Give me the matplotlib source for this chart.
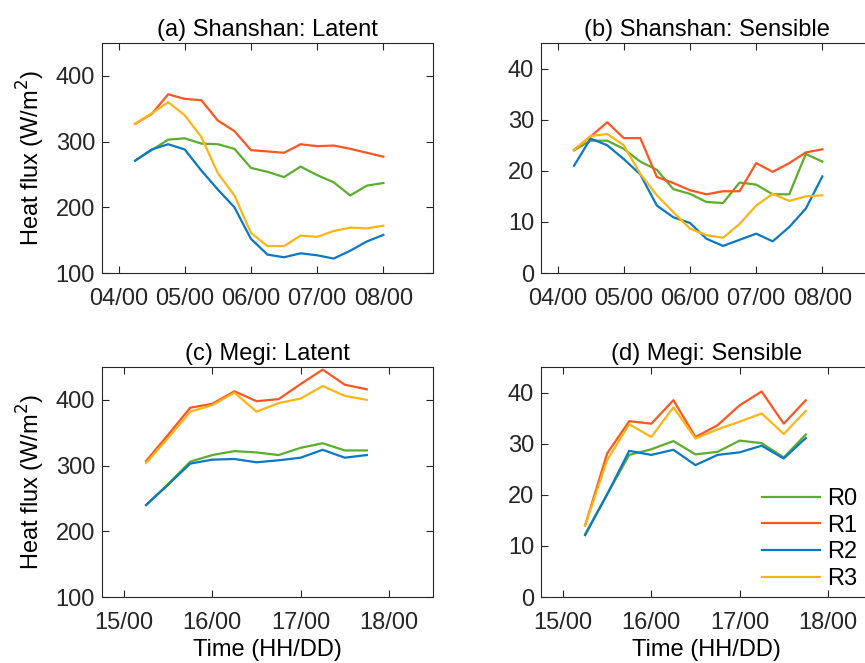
import matplotlib
matplotlib.use("Agg")
import matplotlib.pyplot as plt
import matplotlib.dates as mdates
import pandas as pd

plt.rcParams['font.family'] = ['Liberation Sans', 'DejaVu Sans']
plt.rcParams['font.size'] = 17

#### Data ###
# Shanshan: 6-hourly from 04/06 to 08/00
shanshan_time = pd.date_range('2018-08-04 06:00', '2018-08-08 00:00', freq='6h')
ss_latent_r0 = [271, 287, 303, 305, 297, 296, 289, 260, 254, 246, 262, 249, 238, 218, 233, 237]
ss_latent_r1 = [327, 342, 372, 365, 363, 332, 316, 287, 285, 283, 296, 293, 294, 289, 283, 277]
ss_latent_r2 = [271, 288, 296, 288, 256, 227, 200, 152, 128, 124, 130, 127, 122, 134, 148, 158]
ss_latent_r3 = [327, 343, 360, 340, 307, 252, 218, 161, 141, 141, 157, 155, 164, 169, 168, 172]

ss_sens_r0 = [24.0, 25.9, 25.9, 24.3, 21.8, 20.2, 16.4, 15.5, 13.9, 13.7, 17.7, 17.3, 15.4, 15.4, 23.3, 21.8]
ss_sens_r1 = [24.1, 26.7, 29.5, 26.4, 26.4, 18.8, 17.6, 16.2, 15.4, 16.0, 16.0, 21.5, 19.8, 21.5, 23.6, 24.2]
ss_sens_r2 = [21.0, 26.3, 25.0, 22.3, 19.3, 13.2, 10.9, 9.8, 6.7, 5.3, 6.5, 7.7, 6.2, 9.0, 12.6, 18.9]
ss_sens_r3 = [24.1, 26.8, 27.2, 25.0, 19.4, 15.2, 11.9, 8.7, 7.4, 6.9, 9.6, 13.2, 15.5, 14.1, 15.0, 15.2]

# Megi: 6-hourly from 15/06 to 17/18
megi_time = pd.date_range('2010-10-15 06:00', '2010-10-17 18:00', freq='6h')
mg_latent_r0 = [240, 272, 306, 316, 322, 320, 316, 327, 334, 323, 323]
mg_latent_r1 = [307, 347, 388, 394, 413, 398, 401, 424, 446, 423, 416]
mg_latent_r2 = [240, 271, 303, 309, 310, 305, 308, 312, 324, 312, 316]
mg_latent_r3 = [304, 342, 382, 392, 411, 382, 395, 402, 421, 406, 400]

mg_sens_r0 = [12.3, 20.1, 27.8, 28.9, 30.5, 27.9, 28.4, 30.6, 30.1, 27.3, 31.8]
mg_sens_r1 = [14.0, 28.1, 34.4, 33.9, 38.5, 31.3, 33.6, 37.5, 40.2, 33.9, 38.5]
mg_sens_r2 = [12.1, 20.1, 28.6, 27.8, 28.8, 25.8, 27.8, 28.3, 29.6, 27.1, 31.1]
mg_sens_r3 = [14.0, 26.8, 33.8, 31.3, 37.1, 31.0, 32.8, 34.3, 35.9, 31.9, 36.4]

labels = ['R0', 'R1', 'R2', 'R3']
colors = ['#5BAE2B', '#FF5520', '#0A78C4', '#FFB414']

panels = [
    ("(a) Shanshan: Latent", shanshan_time, [ss_latent_r0, ss_latent_r1, ss_latent_r2, ss_latent_r3],
     (100, 450), [100, 200, 300, 400], ('2018-08-03 18:00', '2018-08-08 18:00'),
     pd.date_range('2018-08-04', '2018-08-08', freq='D')),
    ("(b) Shanshan: Sensible", shanshan_time, [ss_sens_r0, ss_sens_r1, ss_sens_r2, ss_sens_r3],
     (0, 45), [0, 10, 20, 30, 40], ('2018-08-03 18:00', '2018-08-08 18:00'),
     pd.date_range('2018-08-04', '2018-08-08', freq='D')),
    ("(c) Megi: Latent", megi_time, [mg_latent_r0, mg_latent_r1, mg_latent_r2, mg_latent_r3],
     (100, 450), [100, 200, 300, 400], ('2010-10-14 18:00', '2010-10-18 12:00'),
     pd.date_range('2010-10-15', '2010-10-18', freq='D')),
    ("(d) Megi: Sensible", megi_time, [mg_sens_r0, mg_sens_r1, mg_sens_r2, mg_sens_r3],
     (0, 45), [0, 10, 20, 30, 40], ('2010-10-14 18:00', '2010-10-18 12:00'),
     pd.date_range('2010-10-15', '2010-10-18', freq='D')),
]

# axes boxes in figure fractions (right column runs past the figure edge, as cropped)
boxes = [
    [0.1179, 0.5882, 0.3827, 0.3469],
    [0.6254, 0.5882, 0.3827, 0.3469],
    [0.1179, 0.0995, 0.3827, 0.3470],
    [0.6254, 0.0995, 0.3827, 0.3470],
]

fig = plt.figure(figsize=(8.65, 6.63), dpi=100)

for i, (title, t, series, ylim, yticks, xlim, xticks) in enumerate(panels):
    ax = fig.add_axes(boxes[i])
    for y, lab, c in zip(series, labels, colors):
        ax.plot(t, y, color=c, lw=1.6, label=lab)
    ax.set_xlim(pd.Timestamp(xlim[0]), pd.Timestamp(xlim[1]))
    ax.set_ylim(*ylim)
    ax.set_yticks(yticks)
    ax.set_xticks(xticks)
    ax.xaxis.set_major_formatter(mdates.DateFormatter('%d/%H'))
    ax.set_title(title, pad=5, fontsize=17)
    ax.tick_params(direction='in', length=5, width=0.8, top=True, right=True,
                   colors='#262626', labelcolor='#262626', labelsize=17)
    ax.tick_params(axis='x', pad=10.5)
    ax.tick_params(axis='y', pad=5)
    for s in ax.spines.values():
        s.set_color('#262626')
        s.set_linewidth(0.8)
    if i % 2 == 0:
        ax.set_ylabel("Heat flux (W/m$^2$)", labelpad=6)
    if i >= 2:
        ax.set_xlabel("Time (HH/DD)", labelpad=4)
    if i == 3:
        ax.legend(loc='lower right', frameon=False, handlelength=2.45,
                  labelspacing=0.2, borderaxespad=0.0, handletextpad=0.3,
                  borderpad=0.3, bbox_to_anchor=(0.976, 0.0))

fig.savefig("out.png", dpi=100)
